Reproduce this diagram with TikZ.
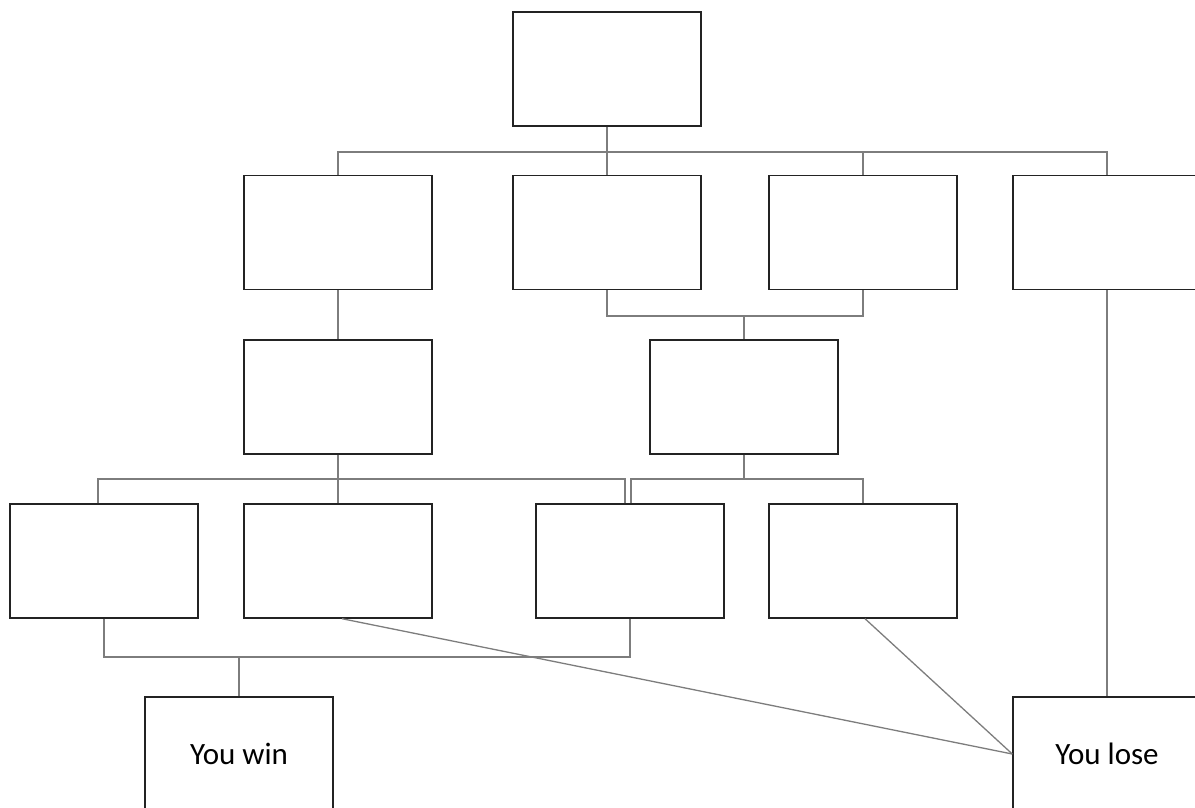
\documentclass[tikz,border=0pt]{standalone}
\usepackage{fontspec}
\setmainfont{Carlito}
\definecolor{linegray}{RGB}{125,125,125}
\definecolor{boxline}{RGB}{35,35,35}
\begin{document}
\begin{tikzpicture}[x=1pt,y=-1pt,
  box/.style={draw=boxline,line width=1.4pt,minimum width=188pt,minimum height=114pt,inner sep=0pt,font=\fontsize{31}{37}\selectfont},
  conn/.style={draw=linegray,line width=1.3pt}]
\useasboundingbox (0,0) rectangle (1195,807);
\node[box] (top) at (607,69) {};
\node[box] (A) at (338,232.5) {};
\node[box] (B) at (607,232.5) {};
\node[box] (C) at (863,232.5) {};
\node[box] (D) at (1107,232.5) {};
\node[box] (E) at (338,397) {};
\node[box] (F) at (744,397) {};
\node[box] (G) at (104,561) {};
\node[box] (H) at (338,561) {};
\node[box] (I) at (630,561) {};
\node[box] (J) at (863,561) {};
\node[box] (Win) at (239,754) {You win};
\node[box] (Lose) at (1107,754) {You lose};
\coordinate (h1) at (607,152);
\coordinate (h2) at (744,316);
\coordinate (h3) at (338,479);
\coordinate (h4) at (744,479);
\coordinate (h5) at (239,657);
\draw[conn] (top.south) -- (B.north);
\draw[conn] (A.north) |- (h1);
\draw[conn] (C.north) |- (h1);
\draw[conn] (D.north) |- (h1);
\draw[conn] (B.south) |- (h2);
\draw[conn] (C.south) |- (h2);
\draw[conn] (h2) -- (F.north);
\draw[conn] (A.south) -- (E.north);
\draw[conn] (E.south) -- (H.north);
\draw[conn] ([xshift=-6pt]G.north) |- (h3);
\draw[conn] ([xshift=-5pt]I.north) |- (h3);
\draw[conn] (F.south) -- (h4);
\draw[conn] ([xshift=1pt]I.north) |- (h4);
\draw[conn] (J.north) |- (h4);
\draw[conn] (G.south) |- (h5);
\draw[conn] (I.south) |- (h5);
\draw[conn] (h5) -- (Win.north);
\draw[conn] ([xshift=4pt]H.south) -- (Lose.west);
\draw[conn] ([xshift=2pt]J.south) -- (Lose.west);
\draw[conn] (D.south) -- (Lose.north);
\end{tikzpicture}
\end{document}
